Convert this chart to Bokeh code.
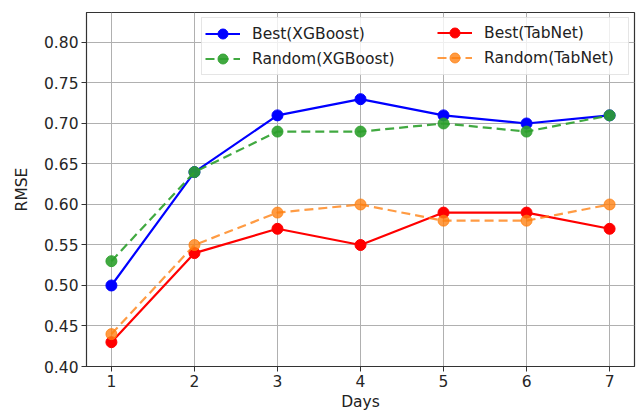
from bokeh.plotting import figure
from bokeh.models import FixedTicker, NumeralTickFormatter, Range1d, Legend, LegendItem
from bokeh.embed import file_html
from bokeh.resources import INLINE

days = [1, 2, 3, 4, 5, 6, 7]
best_xgb = [0.50, 0.64, 0.71, 0.73, 0.71, 0.70, 0.71]
random_xgb = [0.53, 0.64, 0.69, 0.69, 0.70, 0.69, 0.71]
best_tabnet = [0.43, 0.54, 0.57, 0.55, 0.59, 0.59, 0.57]
random_tabnet = [0.44, 0.55, 0.59, 0.60, 0.58, 0.58, 0.60]
y_ticks = [0.40, 0.45, 0.50, 0.55, 0.60, 0.65, 0.70, 0.75, 0.80]

p = figure(width=638, height=414, output_backend="svg", toolbar_location=None,
           x_range=Range1d(0.7, 7.3), y_range=Range1d(0.40, 0.837),
           min_border_left=86, min_border_right=4, min_border_top=12, min_border_bottom=48)

series = [
    ("Best(XGBoost)", best_xgb, "#0000ff", "solid", 1.0),
    ("Random(XGBoost)", random_xgb, "#2ca02c", "9 5", 0.9),
    ("Best(TabNet)", best_tabnet, "#ff0000", "solid", 1.0),
    ("Random(TabNet)", random_tabnet, "#ff7f0e", "9 5", 0.78),
]
items = []
for label, vals, color, dash, alpha in series:
    lr = p.line(days, vals, line_color=color, line_width=2.2, line_dash=dash, line_alpha=alpha)
    sr = p.scatter(days, vals, size=11, fill_color=color, line_color=color, fill_alpha=alpha,
                   line_alpha=alpha)
    items.append(LegendItem(label=label, renderers=[lr, sr]))

p.xaxis.ticker = FixedTicker(ticks=days)
p.yaxis.ticker = FixedTicker(ticks=y_ticks)
p.yaxis.formatter = NumeralTickFormatter(format="0.00")
p.xaxis.axis_label = "Days"
p.yaxis.axis_label = "RMSE"
for ax in (p.xaxis, p.yaxis):
    ax.axis_label_text_font = "DejaVu Sans"
    ax.axis_label_text_font_style = "normal"
    ax.axis_label_text_font_size = "15.5px"
    ax.axis_label_text_color = "#222222"
    ax.major_label_text_font = "DejaVu Sans"
    ax.major_label_text_font_size = "15.5px"
    ax.major_label_text_color = "#262626"
    ax.axis_line_color = "#333333"
    ax.major_tick_line_color = "#333333"
    ax.major_tick_out = 5
    ax.major_tick_in = 0
    ax.minor_tick_line_color = None
    ax.major_label_standoff = 3
p.xaxis.axis_label_standoff = 3
p.yaxis.axis_label_standoff = 10

p.grid.grid_line_color = "#b0b0b0"
p.grid.grid_line_width = 1
p.outline_line_color = "#333333"
p.outline_line_width = 1.2


def make_legend(its, lw, boxed):
    lg = Legend(items=its, location="top_right")
    lg.label_text_font = "DejaVu Sans"
    lg.label_text_font_size = "15.5px"
    lg.label_text_color = "#222222"
    lg.border_line_color = "#cccccc"
    lg.border_line_width = 1
    lg.background_fill_color = "white"
    if boxed:
        lg.background_fill_alpha = 0.8
    else:
        lg.border_line_alpha = 0.0
        lg.background_fill_alpha = 0.0
    lg.margin = 5
    lg.padding = 3
    lg.spacing = 0
    lg.glyph_width = 35
    lg.glyph_height = 25
    lg.label_height = 25
    lg.label_standoff = 12
    lg.label_width = lw
    return lg


p.add_layout(make_legend(items[:2], 373, True))
p.add_layout(make_legend(items[2:], 142, False))

open("out.html", "w").write(file_html(p, INLINE))
